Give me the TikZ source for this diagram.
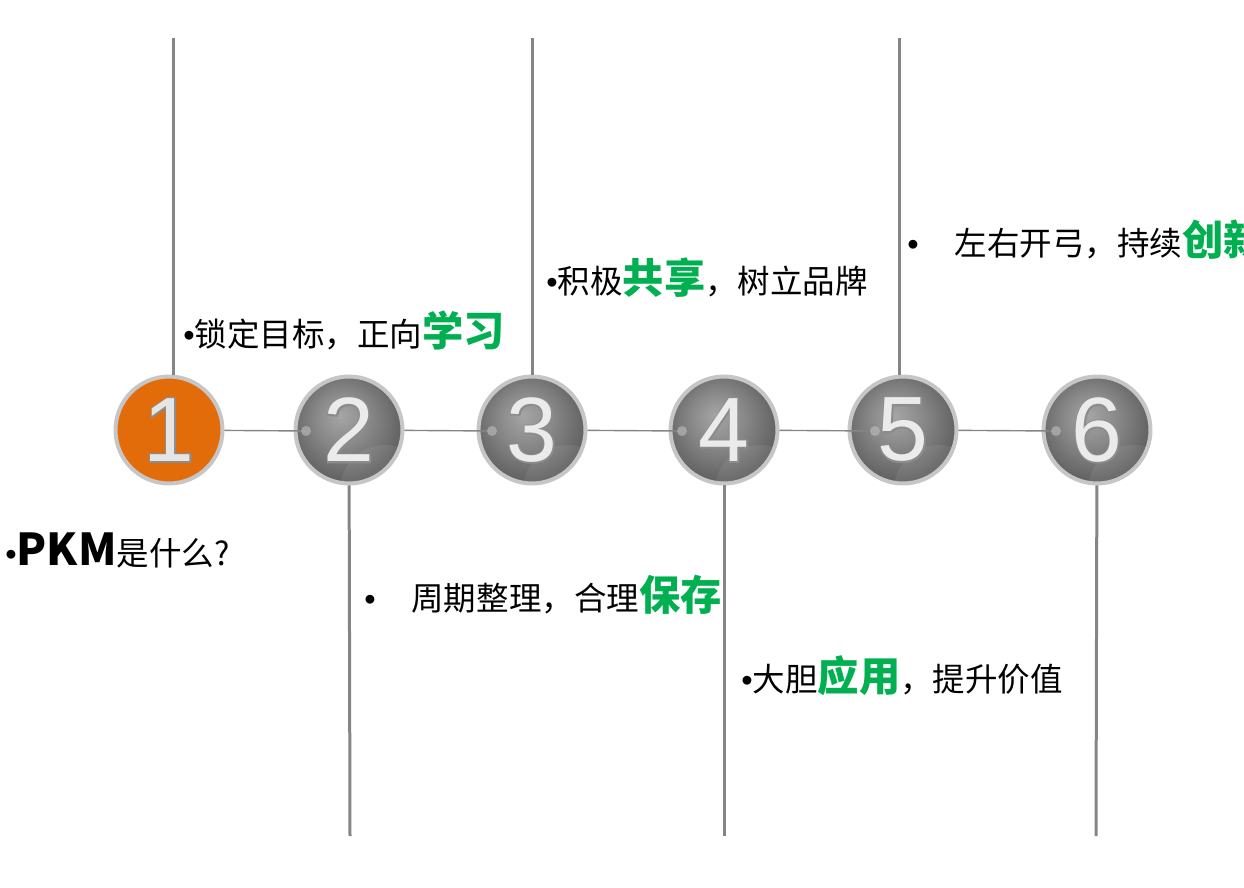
\documentclass[tikz,border=0pt]{standalone}
\usepackage{fontspec}
\setmainfont{Noto Sans CJK SC}
\newfontfamily\numfont{Liberation Sans}
\newfontfamily\numedge{Liberation Sans}[FakeBold=3]
\usepackage{xcolor}
\usepackage{tikz}
\usetikzlibrary{calc}
\definecolor{pkmorange}{HTML}{E36C0A}
\definecolor{pkmgreen}{HTML}{00B050}
\definecolor{stemgray}{HTML}{858585}
\definecolor{ringgray}{HTML}{C6C6C6}
\pgfdeclareradialshading{ballshade}{\pgfpoint{-4bp}{7bp}}{color(0bp)=(black!35); color(12bp)=(black!46); color(30bp)=(black!65); color(44bp)=(black!78); color(50bp)=(black!82)}
\newcommand\hl[1]{{\color{pkmgreen}\bfseries\fontsize{23.5}{26}\selectfont #1}}
\newcommand\bul{{\numfont •}}
\newcommand\ballnum[1]{\rlap{\color{black!45}\numedge #1}#1}

\begin{document}
\begin{tikzpicture}[x=0.02cm,y=-0.02cm,
  ball/.style={circle,draw=ringgray,line width=0.08cm,minimum size=2.14cm,inner sep=0pt,
    shading=ballshade,text=white!92!black,font=\numfont\fontsize{52}{52}\selectfont,
    path picture={\fill[white,opacity=0.07] ($(path picture bounding box.center)+(0.72cm,-1.2cm)$) circle (0.9cm);}},
  ballone/.style={circle,draw=ringgray,line width=0.08cm,minimum size=2.14cm,inner sep=0pt,
    fill=pkmorange,text=white!90!black,font=\numfont\fontsize{52}{52}\selectfont},
  stem/.style={draw=stemgray,line width=0.06cm},
  link/.style={draw=stemgray,line width=0.028cm},
  dotmark/.style={fill=black!25,opacity=0.6},
  lbl/.style={anchor=west,inner sep=0pt,font=\fontsize{18.5}{22}\selectfont}]
  \useasboundingbox (0,0) rectangle (1244,888);
  % numbered balls
  \node[ballone] (c1) at (169,430) {\ballnum{1}};
  \node[ball] (c2) at (349,430) {\ballnum{2}};
  \node[ball] (c3) at (532,430) {\ballnum{3}};
  \node[ball] (c4) at (724,430) {\ballnum{4}};
  \node[ball] (c5) at (903,430) {\ballnum{5}};
  \node[ball] (c6) at (1097,430) {\ballnum{6}};
  % stems
  \coordinate (t1) at (173,38);
  \coordinate (t3) at (532,38);
  \coordinate (t5) at (899,38);
  \coordinate (b2) at (350,836);
  \coordinate (b4) at (724,836);
  \coordinate (b6) at (1096,836);
  \draw[stem] (t1) -- (t1 |- c1.north);
  \draw[stem] (t3) -- (c3);
  \draw[stem] (t5) -- (t5 |- c5.north);
  \draw[stem] (b2) -- (c2);
  \draw[stem] (b4) -- (c4);
  \draw[stem] (b6) -- (c6);
  % links and dots
  \coordinate (d2) at (306,431);
  \coordinate (d3) at (492,431);
  \coordinate (d4) at (682,431);
  \coordinate (d5) at (875,431);
  \coordinate (d6) at (1056,431);
  \draw[link] (c1) -- (d2);
  \draw[link] (c2) -- (d3);
  \draw[link] (c3) -- (d4);
  \draw[link] (c4) -- (d5);
  \draw[link] (c5) -- (d6);
  \foreach \d in {d2,d3,d4,d5,d6}
    \fill[dotmark] (\d) circle (0.1cm);
  % labels
  \node[lbl] (q1) at (5,550) {\bul{\bfseries\fontsize{25}{28}\selectfont PKM}是什么?};
  \node[lbl] (q2) at (183,330) {\bul 锁定目标，正向\hl{学习}};
  \node[lbl] (q3) at (364,595) {\bul\hspace{1.1em}周期整理，合理\hl{保存}};
  \node[lbl] (q4) at (546,278) {\bul 积极\hl{共享}，树立品牌};
  \node[lbl] (q5) at (741,676) {\bul 大胆\hl{应用}，提升价值};
  \node[lbl] (q6) at (907,240) {\bul\hspace{1.1em}左右开弓，持续\hl{创新}};
\end{tikzpicture}
\end{document}
